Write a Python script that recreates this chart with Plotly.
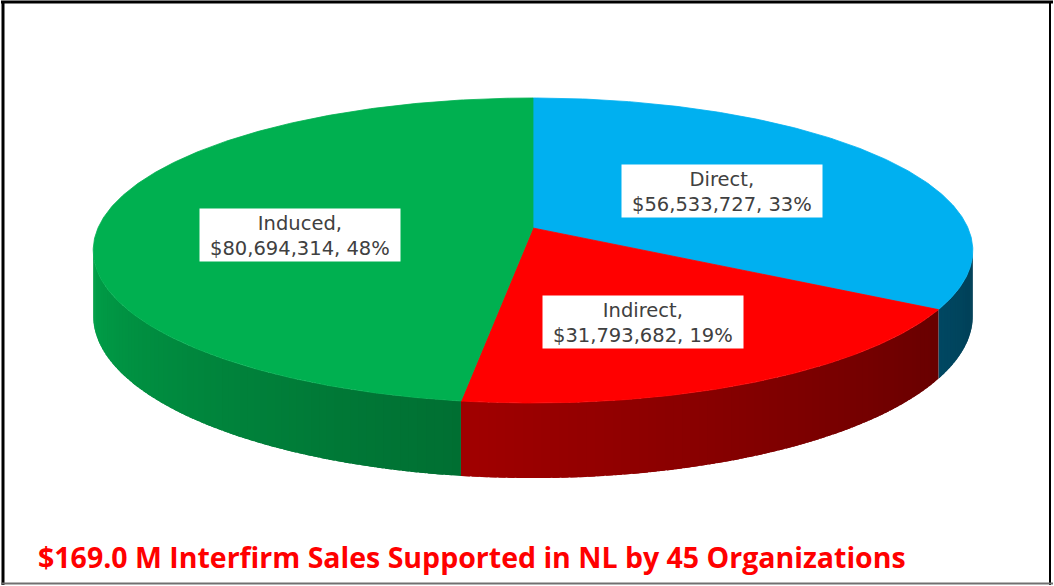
import math
import plotly.graph_objects as go

# ---- data ----
categories = ["Direct", "Indirect", "Induced"]
values = [56533727, 31793682, 80694314]
slice_colors = ["#00B0F0", "#FF0000", "#00B050"]
title_text = "$169.0 M Interfirm Sales Supported in NL by 45 Organizations"

# ---- layout constants (pixel space) ----
W, H = 1054, 586
CX, CY = 533, 228          # projected pie centre
RX, RY = 435, 149.2        # radii of the top face
P = 0.1475                 # perspective factor
DEPTH = 64                 # slab thickness
label_centers = [(722, 191), (643, 322), (300, 235)]
BOX_W, BOX_H = 201, 53


def proj(theta, f=1.0):
    t = math.radians(theta)
    a, b = math.sin(t), math.cos(t)
    w = 1.0 / (1.0 + P * b * f)
    return CX + RX * f * a * w, CY - RY * f * b * w, w


def hex_rgb(h):
    h = h.lstrip("#")
    return tuple(int(h[i:i + 2], 16) for i in (0, 2, 4))


def shade(hexcol, theta):
    t = max(0.0, min(1.0, (theta - 98.5) / 163.0))
    k = 0.36 + 0.56 * t ** 1.2
    r, g, b = hex_rgb(hexcol)
    return "rgb(%d,%d,%d)" % (r * k, g * k, b * k)


total = sum(values)
bounds = [0.0]
for v in values:
    bounds.append(bounds[-1] + v / total * 360.0)

fig = go.Figure()

vis_lo = math.degrees(math.acos(-P))
vis_hi = 360.0 - vis_lo

# ---- side strips (each overlaps the next slightly to hide seams) ----
for i, col in enumerate(slice_colors):
    s0, s1 = max(bounds[i], vis_lo), min(bounds[i + 1], vis_hi)
    if s1 <= s0:
        continue
    n = max(2, int((s1 - s0) / 1.0))
    step = (s1 - s0) / n
    for k in range(n):
        ta = s0 + k * step
        tb = min(s1, ta + step * 1.8)
        xs, ys = [], []
        for th in (ta, tb):
            x, y, w = proj(th)
            xs.append(x); ys.append(y)
        for th in (tb, ta):
            x, y, w = proj(th)
            xs.append(x); ys.append(y + DEPTH * w)
        c = shade(col, ta + step / 2)
        fig.add_trace(go.Scatter(x=xs, y=ys, mode="lines", fill="toself",
                                 fillcolor=c, line=dict(color=c, width=0),
                                 hoverinfo="skip", showlegend=False))

# ---- top faces ----
for i, col in enumerate(slice_colors):
    s0, s1 = bounds[i], bounds[i + 1]
    n = max(4, int((s1 - s0) / 0.5))
    xs, ys = [CX], [CY]
    for k in range(n + 1):
        x, y, _ = proj(s0 + (s1 - s0) * k / n)
        xs.append(x); ys.append(y)
    xs.append(CX); ys.append(CY)
    fig.add_trace(go.Scatter(x=xs, y=ys, mode="lines", fill="toself",
                             fillcolor=col, line=dict(color=col, width=0.8),
                             hoverinfo="skip", showlegend=False,
                             name=categories[i]))

# ---- labels ----
shapes = []
annotations = []
lab_font = dict(family="DejaVu Sans", size=19.5, color="#404040")
for i, cat in enumerate(categories):
    lx, ly = label_centers[i]
    pct = values[i] / total * 100
    shapes.append(dict(type="rect", xref="x", yref="y",
                       x0=lx - BOX_W / 2, x1=lx + BOX_W / 2,
                       y0=ly - BOX_H / 2, y1=ly + BOX_H / 2,
                       fillcolor="white", line=dict(width=0), layer="above"))
    annotations.append(dict(x=lx, y=ly + 1, xref="x", yref="y",
                            text=f"{cat},<br>${values[i]:,}, {pct:.0f}%",
                            showarrow=False, xanchor="center", yanchor="middle",
                            align="center", font=lab_font))

# title
annotations.append(dict(x=36, y=557, xref="x", yref="y", text="<b>" + title_text + "</b>",
                        showarrow=False, xanchor="left", yanchor="middle",
                        font=dict(family="Open Sans", size=28.5, color="#FF0000")))

# frame
shapes += [
    dict(type="line", xref="x", yref="y", x0=1, x1=1053, y0=2, y1=2, line=dict(color="black", width=3)),
    dict(type="line", xref="x", yref="y", x0=3, x1=3, y0=1, y1=585, line=dict(color="black", width=3)),
    dict(type="line", xref="x", yref="y", x0=1050, x1=1050, y0=1, y1=585, line=dict(color="black", width=2)),
    dict(type="line", xref="x", yref="y", x0=1, x1=1053, y0=583.5, y1=583.5, line=dict(color="#707070", width=2)),
]

fig.update_layout(
    width=W, height=H,
    margin=dict(l=0, r=0, t=0, b=0),
    paper_bgcolor="white", plot_bgcolor="white",
    xaxis=dict(range=[0, W], visible=False, fixedrange=True),
    yaxis=dict(range=[H, 0], visible=False, fixedrange=True),
    shapes=shapes, annotations=annotations,
    showlegend=False,
)

fig.write_html("out.html", config={"displayModeBar": False},
               post_script="document.body.style.margin='0';document.body.style.overflow='hidden';")
